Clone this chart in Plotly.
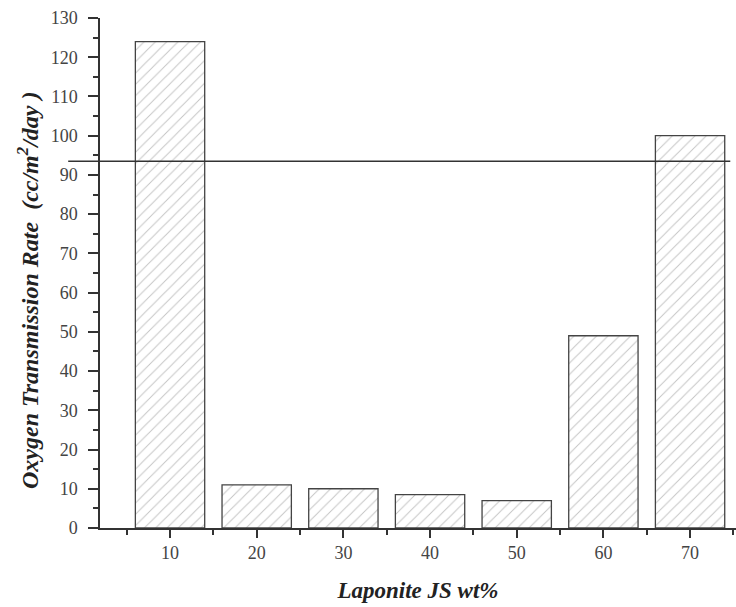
import plotly.graph_objects as go

categories = [10, 20, 30, 40, 50, 60, 70]
otr_values = [124, 11, 10, 8.5, 7, 49, 100]
reference_level = 93.5
y_ticks = list(range(0, 131, 10))

fig = go.Figure()
fig.add_trace(go.Bar(
    x=categories, y=otr_values, width=8,
    marker=dict(color="white",
                line=dict(color="#444444", width=1.3),
                pattern=dict(shape="/", fgcolor="#8a8a8a", bgcolor="white",
                             size=8, solidity=0.12)),
    showlegend=False,
))

fig.add_shape(type="line", xref="paper", yref="y",
              x0=-0.05, x1=0.991, y0=reference_level, y1=reference_level,
              line=dict(color="#333333", width=1.5), layer="above")

font_family = "Liberation Serif"
nb = "\u00a0"
y_title = ("<b><i>Oxygen Transmission Rate" + nb * 2
           + "(cc/m<sup>2</sup>/day" + nb + ")</i></b>")

fig.add_annotation(text=y_title, xref="paper", yref="paper",
                   x=-0.113, y=0.465, xanchor="center", yanchor="middle",
                   textangle=-90, showarrow=False,
                   font=dict(family=font_family, size=24, color="#222222"))

fig.update_layout(
    width=736, height=607,
    margin=dict(l=100, r=0, t=18, b=79),
    plot_bgcolor="white", paper_bgcolor="white",
    font=dict(family=font_family, color="#333333", size=18),
    bargap=0.2,
)
fig.update_xaxes(
    range=[1.92, 75.3], tickvals=categories, ticktext=[str(c) for c in categories],
    showline=True, linecolor="#333333", linewidth=1.5,
    ticks="outside", ticklen=8, tickwidth=1.5, tickcolor="#333333",
    minor=dict(tickvals=[5, 15, 25, 35, 45, 55, 65, 75], ticks="outside",
               ticklen=5, tickwidth=1.5, tickcolor="#333333"),
    showgrid=False, zeroline=False,
    tickfont=dict(family=font_family, size=18, color="#444444"),
    title=dict(text="<b><i>Laponite JS wt%</i></b>",
               font=dict(family=font_family, size=23, color="#222222"), standoff=20),
)
fig.update_yaxes(
    range=[0, 130], tickvals=y_ticks,
    showline=True, linecolor="#333333", linewidth=1.5,
    ticks="outside", ticklen=10, tickwidth=1.5, tickcolor="#333333",
    minor=dict(dtick=5, ticks="outside", ticklen=5, tickwidth=1.5, tickcolor="#333333"),
    showgrid=False, zeroline=False,
    tickfont=dict(family=font_family, size=18, color="#444444"),
    ticklabelstandoff=7,
)

fig.write_html("out.html")
